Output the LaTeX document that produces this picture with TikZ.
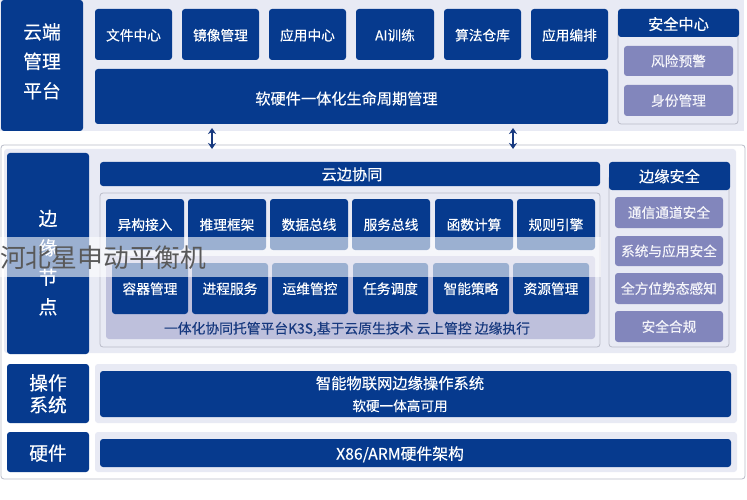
\documentclass[tikz,border=0pt]{standalone}
\usepackage{fontspec}
\setmainfont{Noto Sans CJK SC}[FakeBold=0.3]
\newfontfamily\markfont{Noto Sans CJK SC}
\definecolor{navy}{HTML}{063A8E}
\definecolor{mauve}{HTML}{8286BC}
\definecolor{lav}{HTML}{E8EAF4}
\definecolor{lav2}{HTML}{BEC0DC}
\definecolor{capt}{HTML}{17397F}
\definecolor{edgeg}{HTML}{B9BBC8}
\tikzset{
  blk/.style={inner sep=0pt,align=center,rounded corners=3pt,font=\fontsize{13.7}{15}\selectfont},
  bluebox/.style={blk,fill=navy,text=white,text height=12pt},
  toprow/.style={bluebox,text height=13pt},
  bighead/.style={bluebox,font=\fontsize{15.2}{17}\selectfont,text height=13.4pt},
  bighead2/.style={bighead,text height=15pt},
  sidehead/.style={bluebox,font=\fontsize{18.8}{29.5}\selectfont},
  graybox/.style={blk,fill=mauve,text=white!92!mauve},
  panel/.style={blk,fill=lav},
  frame/.style={blk,draw=edgeg,line width=.8pt},
  link/.style={draw=capt,line width=1.4pt,{Stealth[length=6pt,width=8pt]}-{Stealth[length=6pt,width=8pt]}}
}
\newcommand{\bx}[7]{%
  \pgfmathsetmacro{\cxx}{(#3+#5)/2}\pgfmathsetmacro{\cyy}{(#4+#6)/2}%
  \pgfmathsetmacro{\www}{#5-#3}\pgfmathsetmacro{\hhh}{#6-#4}%
  \node[#2,minimum width=\www pt,minimum height=\hhh pt] (#1) at (\cxx,\cyy) {#7};}
\usetikzlibrary{arrows.meta}
\begin{document}
\begin{tikzpicture}[x=1pt,y=-1pt]
\useasboundingbox (0,0) rectangle (747,500);
\fill[white] (0,0) rectangle (747,500);
% cloud layer
\bx{cloudbg}{panel,rounded corners=0pt}{0}{0}{744}{131}{}
\bx{cloudside}{sidehead,text height=65pt,text depth=0pt}{1}{0}{83}{131}{云端\\管理\\平台}
\bx{c1}{toprow}{95}{9}{172}{60}{文件中心}
\bx{c2}{toprow}{182}{9}{259}{60}{镜像管理}
\bx{c3}{toprow}{269}{9}{346}{60}{应用中心}
\bx{c4}{toprow}{356}{9}{434}{60}{AI训练}
\bx{c5}{toprow}{444}{9}{521}{60}{算法仓库}
\bx{c6}{toprow}{531}{9}{608}{60}{应用编排}
\bx{life}{bighead,text height=17pt}{95}{69}{608}{124}{\hspace*{-10pt}软硬件一体化生命周期管理}
\bx{secframe}{frame}{618}{12}{738}{124}{}
\bx{sechead}{bighead2}{618}{9}{739}{37}{安全中心}
\bx{s1}{graybox}{624}{46}{733}{76}{风险预警}
\bx{s2}{graybox}{624}{85}{733}{116}{身份管理}
% edge layer
\bx{edgeouter}{frame,fill=white}{1}{145}{745}{479}{}
\bx{edgebg}{panel}{4}{149}{736}{353}{}
\bx{edgeside}{sidehead,text height=121pt,text depth=0pt}{7}{153}{89}{354}{边\\缘\\节\\点}
\bx{collab}{bighead}{100}{162}{600}{186}{\hspace*{4pt}云边协同}
\bx{innerframe}{frame}{100}{193}{600}{347}{}
\bx{innerbg}{panel,fill=lav2}{106}{256}{595}{339}{}
\bx{e1}{bluebox}{106}{199}{184}{250}{异构接入}
\bx{e2}{bluebox}{188}{199}{266}{250}{推理框架}
\bx{e3}{bluebox}{270}{199}{348}{250}{数据总线}
\bx{e4}{bluebox}{352}{199}{430}{250}{服务总线}
\bx{e5}{bluebox}{435}{199}{513}{250}{函数计算}
\bx{e6}{bluebox}{517}{199}{595}{250}{规则引擎}
\bx{f1}{bluebox}{112}{263}{188}{314}{容器管理}
\bx{f2}{bluebox}{192}{263}{268}{314}{进程服务}
\bx{f3}{bluebox}{272}{263}{348}{314}{运维管控}
\bx{f4}{bluebox}{353}{263}{428}{314}{任务调度}
\bx{f5}{bluebox}{433}{263}{509}{314}{智能策略}
\bx{f6}{bluebox}{513}{263}{589}{314}{资源管理}
\node[inner sep=0pt,text=capt,font=\fontsize{13.8}{15}\selectfont] (capt) at (347,329) {一体化协同托管平台K3S,基于云原生技术 云上管控 边缘执行};
\bx{esecframe}{frame}{609}{175}{729}{347}{}
\bx{esechead}{bighead}{609}{162}{730}{190}{边缘安全}
\bx{g1}{graybox}{615}{197}{723}{228}{通信通道安全}
\bx{g2}{graybox}{615}{236}{723}{266}{系统与应用安全}
\bx{g3}{graybox}{615}{273}{723}{304}{全方位势态感知}
\bx{g4}{graybox}{615}{311}{723}{342}{安全合规}
% OS
\bx{osbg}{panel}{95}{364}{737}{423}{}
\bx{osside}{sidehead,font=\fontsize{18.8}{22}\selectfont,text height=37pt,text depth=0pt}{7}{364}{89}{423}{操作\\系统}
\bx{os}{bluebox,text height=34pt,text depth=0pt}{100}{371}{731}{417}{\hspace*{-31pt}{\fontsize{15.3}{22}\selectfont 智能物联网边缘操作系统}\\[7pt]\hspace*{-31pt}{\fontsize{13.6}{15}\selectfont 软硬一体高可用}}
% hardware
\bx{hwbg}{panel}{95}{432}{737}{472}{}
\bx{hwside}{sidehead,font=\fontsize{18.8}{21}\selectfont,text height=18pt}{7}{432}{89}{472}{硬件}
\bx{hw}{bighead,font=\fontsize{15.8}{17}\selectfont,text height=16pt}{100}{439}{731}{467}{\hspace*{-31pt}X86/ARM硬件架构}
% links between layers
\coordinate (la) at (212,128); \coordinate (lb) at (212,149);
\coordinate (ra) at (513,128); \coordinate (rb) at (513,149);
\draw[link] (la) -- (lb);
\draw[link] (ra) -- (rb);
% watermark
\fill[white,opacity=.6] (0,237) rectangle (601,277);
\node[anchor=west,inner sep=0pt,text=black!65,font=\markfont\fontsize{25.8}{28}\selectfont] (mark) at (0,257.5) {河北星申动平衡机};
\end{tikzpicture}
\end{document}
